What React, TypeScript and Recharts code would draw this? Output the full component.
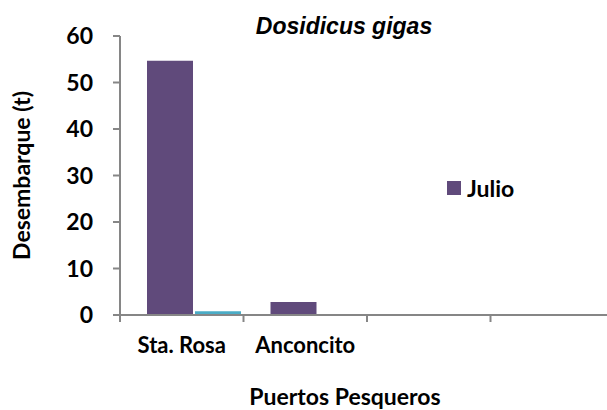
import React from "react";
import { BarChart, Bar, XAxis, YAxis, Legend, Label } from "recharts";

// Datos: desembarque (t) por puerto pesquero
const puertos = ["Sta. Rosa", "Anconcito", "", ""];
const julio = [54.7, 2.8, null, null];
const otraSerie = [0.8, 0, null, null];
const yTicks = [0, 10, 20, 30, 40, 50, 60];

const FONT = "Lato, 'Open Sans', sans-serif";
const AXIS_COLOR = "#868686";
const PURPLE = "#604A7B";
const CYAN = "#4BACC6";

const data = puertos.map((puerto, i) => ({
    puerto,
    julio: julio[i],
    otra: otraSerie[i],
}));

const TICK_LEN = 7;
const TICK_GAP = 15;

// category label in the middle, tick marks on the band edges (Excel style)
const PuertoTick = ({ x, y, payload, index, visibleTicksCount }: any) => {
    const half = payload.offset || 0;
    const y1 = y - TICK_LEN - TICK_GAP;
    const y2 = y - TICK_GAP;
    return (
        <g>
            <line x1={x - half} x2={x - half} y1={y1} y2={y2} stroke={AXIS_COLOR} strokeWidth={2} />
            {index === visibleTicksCount - 1 && (
                <line x1={x + half} x2={x + half} y1={y1} y2={y2} stroke={AXIS_COLOR} strokeWidth={2} />
            )}
            <text
                x={x}
                y={y}
                dy="0.71em"
                textAnchor="middle"
                fill="#000"
                fontFamily={FONT}
                fontWeight="bold"
                fontSize={22}
            >
                {payload.value}
            </text>
        </g>
    );
};

const LegendContent = ({ payload }: any) => (
    <div style={{ fontFamily: FONT, fontWeight: "bold", fontSize: 23, color: "#000" }}>
        {(payload || [])
            .filter((entry: any) => entry.type !== "none")
            .map((entry: any, i: number) => (
                <div key={i} style={{ display: "flex", alignItems: "center" }}>
                    <span
                        style={{
                            display: "inline-block",
                            width: 14,
                            height: 14,
                            background: entry.color,
                            marginRight: 6,
                        }}
                    />
                    {entry.value}
                </div>
            ))}
    </div>
);

export default function App() {
    return (
        <div
            style={{
                position: "absolute",
                left: 0,
                top: 0,
                width: 607,
                height: 410,
                overflow: "hidden",
                background: "#fff",
            }}
        >
            <div
                style={{
                    position: "absolute",
                    left: 0,
                    width: 688,
                    top: 12,
                    textAlign: "center",
                    fontFamily: "'Liberation Sans', Arial, sans-serif",
                    fontWeight: "bold",
                    fontStyle: "italic",
                    fontSize: 23,
                    lineHeight: "28px",
                    color: "#000",
                    zIndex: 1,
                }}
            >
                Dosidicus gigas
            </div>
            <BarChart
                width={640}
                height={410}
                data={data}
                margin={{ top: 36, right: 26, bottom: 15, left: 0 }}
                barSize={46}
                barGap={2}
            >
                <XAxis
                    xAxisId="labels"
                    dataKey="puerto"
                    interval={0}
                    height={80}
                    tickLine={false}
                    tickSize={TICK_LEN}
                    tickMargin={TICK_GAP}
                    axisLine={{ stroke: AXIS_COLOR, strokeWidth: 2 }}
                    tick={<PuertoTick />}
                >
                    <Label
                        value="Puertos Pesqueros"
                        position="insideBottom"
                        offset={-10}
                        dx={-22}
                        style={{ fontFamily: FONT, fontWeight: "bold", fontSize: 23, fill: "#000" }}
                    />
                </XAxis>
                <XAxis
                    xAxisId="cat"
                    dataKey="puerto"
                    hide
                    height={0}
                    padding={{ left: 12, right: -12 }}
                />
                <YAxis
                    width={120}
                    domain={[0, 60]}
                    ticks={yTicks}
                    interval={0}
                    tickSize={7}
                    tickMargin={20}
                    axisLine={{ stroke: AXIS_COLOR, strokeWidth: 2 }}
                    tickLine={{ stroke: AXIS_COLOR, strokeWidth: 2 }}
                    tick={{ fill: "#000", fontFamily: FONT, fontWeight: "bold", fontSize: 23 }}
                >
                    <Label
                        value="Desembarque (t)"
                        angle={-90}
                        position="insideLeft"
                        offset={22}
                        style={{
                            textAnchor: "middle",
                            fontFamily: FONT,
                            fontWeight: "bold",
                            fontSize: 23,
                            fill: "#000",
                        }}
                    />
                </YAxis>
                <Legend
                    layout="vertical"
                    align="center"
                    verticalAlign="middle"
                    wrapperStyle={{ left: 447, top: 174, width: "auto" }}
                    content={<LegendContent />}
                />
                <Bar
                    xAxisId="cat"
                    dataKey="julio"
                    name="Julio"
                    fill={PURPLE}
                    isAnimationActive={false}
                />
                <Bar
                    xAxisId="cat"
                    dataKey="otra"
                    fill={CYAN}
                    legendType="none"
                    isAnimationActive={false}
                />
            </BarChart>
        </div>
    );
}
